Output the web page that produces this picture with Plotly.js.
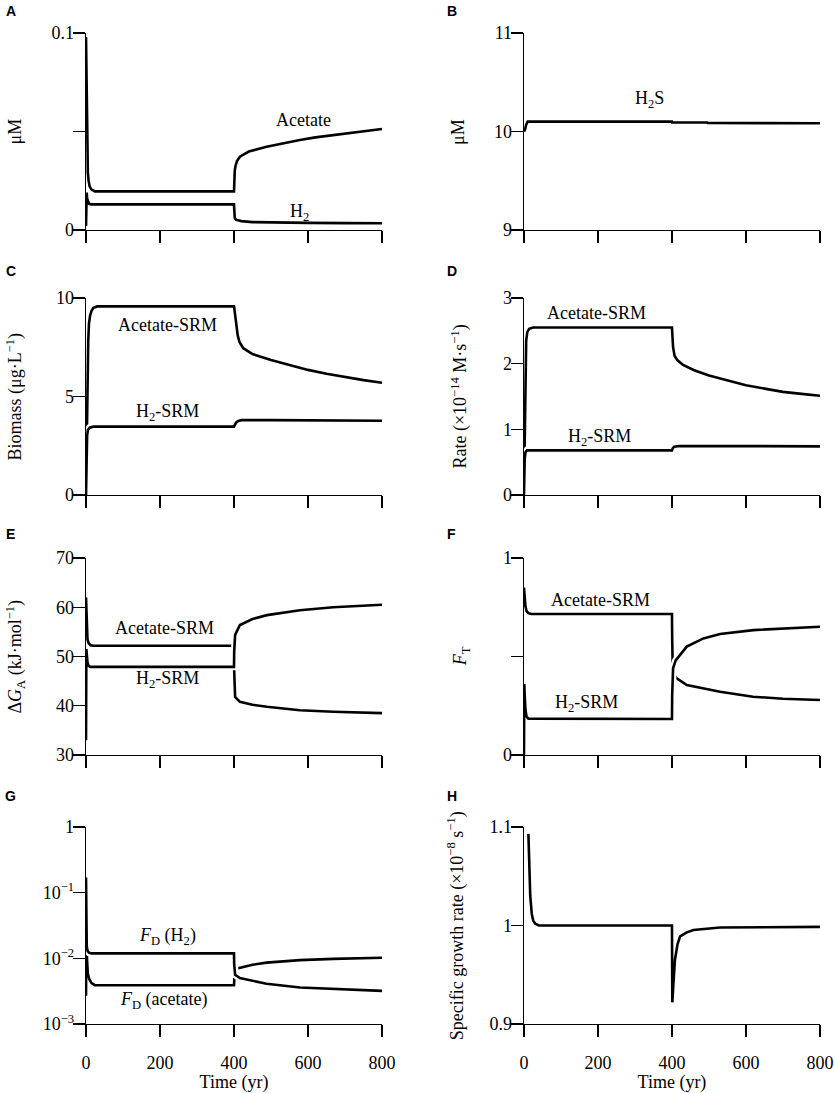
<!DOCTYPE html>
<html>
<head>
<meta charset="utf-8">
<script src="https://cdn.plot.ly/plotly-3.0.1.min.js"></script>
<style>
  html, body { margin: 0; padding: 0; background: #fff; }
  #chart { width: 835px; height: 1093px; }
</style>
</head>
<body>
<div id="chart"></div>
<script>
// time axis (yr)
const timeTicks = [0, 200, 400, 600, 800];

// A - concentrations (uM)
const acetateA_t = [0, 1, 2, 3, 4, 5, 7, 10, 15, 24, 400, 400.5, 401, 402, 404, 408, 416, 440, 488, 530, 578, 620, 668, 730, 800];
const acetateA_y = [0.098, 0.08, 0.06, 0.045, 0.035, 0.029, 0.025, 0.022, 0.0205, 0.0196, 0.0196, 0.024, 0.027, 0.030, 0.0325, 0.035, 0.0372, 0.0398, 0.0423, 0.044, 0.0457, 0.047, 0.0482, 0.0498, 0.0513];
const h2A_t = [0, 0.5, 1, 2, 3, 5, 8, 14, 400, 400.5, 401, 402, 405, 420, 450, 500, 600, 700, 800];
const h2A_y = [0.002, 0.012, 0.0175, 0.019, 0.016, 0.0142, 0.0133, 0.013, 0.013, 0.011, 0.008, 0.0062, 0.0052, 0.0045, 0.004, 0.0038, 0.0036, 0.0035, 0.0034];

// B - H2S (uM)
const h2sB_t = [0, 3, 6, 10, 400, 400.5, 495, 496, 800];
const h2sB_y = [10.0, 10.02, 10.07, 10.1, 10.1, 10.093, 10.092, 10.086, 10.083];

// C - biomass (ug/L)
const acetateC_t = [0, 2, 4, 6, 8, 11, 15, 20, 30, 400, 401, 403, 406, 410, 415, 425, 450, 500, 550, 600, 650, 700, 750, 800];
const acetateC_y = [0, 3, 6, 7.8, 8.7, 9.1, 9.35, 9.5, 9.57, 9.57, 9.45, 9.1, 8.6, 8.1, 7.75, 7.45, 7.15, 6.85, 6.6, 6.35, 6.15, 5.98, 5.83, 5.7];
const h2C_t = [0, 1, 2, 3, 5, 10, 20, 400, 402, 406, 412, 420, 500, 800];
const h2C_y = [0, 1.5, 2.5, 3.0, 3.3, 3.42, 3.47, 3.47, 3.55, 3.68, 3.76, 3.8, 3.8, 3.77];

// D - rate (x1e-14 M/s)
const acetateD_t = [0, 2, 4, 6, 9, 14, 25, 400, 401, 403, 407, 415, 430, 460, 500, 550, 600, 650, 700, 750, 800];
const acetateD_y = [0, 1.0, 2.0, 2.35, 2.48, 2.53, 2.55, 2.55, 2.45, 2.25, 2.12, 2.05, 1.98, 1.9, 1.82, 1.74, 1.67, 1.62, 1.57, 1.54, 1.51];
const h2D_t = [0, 1, 2, 4, 8, 400, 402, 406, 420, 600, 800];
const h2D_y = [0, 0.35, 0.55, 0.65, 0.68, 0.68, 0.71, 0.735, 0.745, 0.745, 0.74];

// E - dG_A (kJ/mol)
const acetateE_t = [0, 1, 2, 4, 7, 12, 20, 400, 400.5, 401, 403, 416, 450, 489, 578, 668, 800];
const acetateE_y = [62, 58, 55.5, 53.5, 52.7, 52.3, 52.2, 52.2, 47, 43, 41.8, 40.8, 40.2, 39.8, 39.1, 38.8, 38.5];
const h2E_t = [0, 0.5, 1, 2, 4, 7, 12, 400, 400.5, 401, 403, 416, 450, 489, 578, 668, 800];
const h2E_y = [33, 45, 51.5, 50.5, 48.8, 48.1, 47.9, 47.9, 51, 52.5, 54.4, 56.4, 57.6, 58.4, 59.4, 60, 60.5];

// F - F_T
const acetateF_t = [0, 2, 4, 7, 12, 20, 400, 400.5, 401, 402, 405, 413, 440, 530, 619, 700, 800];
const acetateF_y = [0.85, 0.79, 0.755, 0.73, 0.72, 0.716, 0.716, 0.6, 0.5, 0.45, 0.41, 0.389, 0.355, 0.321, 0.296, 0.286, 0.279];
const h2F_t = [0, 0.5, 1, 2, 4, 7, 12, 400, 400.5, 401, 403, 410, 421, 440, 485, 530, 620, 700, 800];
const h2F_y = [0, 0.25, 0.36, 0.3, 0.23, 0.195, 0.185, 0.183, 0.3, 0.39, 0.44, 0.48, 0.508, 0.55, 0.592, 0.614, 0.634, 0.643, 0.651];

// G - F_D (log)
const acetateG_t = [0, 0.5, 1, 2, 3, 5, 9, 15, 24, 400, 401, 404, 409, 450, 488, 578, 668, 800];
const acetateG_y = [0.0027, 0.01, 0.018, 0.014, 0.009, 0.0058, 0.0048, 0.0042, 0.0039, 0.0039, 0.005, 0.0065, 0.007, 0.008, 0.0086, 0.0094, 0.0098, 0.0102];
const h2G_t = [0, 0.5, 1, 2, 4, 8, 15, 400, 400.5, 401, 403, 416, 450, 488, 578, 668, 800];
const h2G_y = [0.17, 0.05, 0.02, 0.0155, 0.013, 0.0122, 0.0119, 0.0119, 0.008, 0.0064, 0.0056, 0.005, 0.0045, 0.0041, 0.0036, 0.0034, 0.0032];

// H - specific growth rate (x1e-8 /s)
const growthH_t = [12, 14, 17, 21, 25, 30, 40, 400, 400.5, 401, 403, 408, 415, 422, 440, 458, 530, 800];
const growthH_y = [1.093, 1.06, 1.03, 1.012, 1.005, 1.002, 1.0, 1.0, 0.96, 0.922, 0.935, 0.965, 0.981, 0.989, 0.993, 0.9955, 0.998, 0.9986];

const serif = "Liberation Serif";
const fontSize = 18;
const colX = [[0.103, 0.4575], [0.6275, 0.982]];
const rowY = [[0.7896, 0.9698], [0.5471, 0.7274], [0.3092, 0.4895], [0.0631, 0.2434]];

const panels = [
  { letter: "A", col: 0, row: 0, series: [[acetateA_t, acetateA_y], [h2A_t, h2A_y]],
    range: [0, 0.1], tickvals: [0, 0.05, 0.1], ticktext: ["0", "", "0.1"],
    ytitle: "μM", tx: 0.018,
    labels: [["Acetate", 589, 0.0558], ["H<sub>2</sub>", 578, 0.009]] },
  { letter: "B", col: 1, row: 0, series: [[h2sB_t, h2sB_y]],
    range: [9, 11], tickvals: [9, 10, 11], ticktext: ["9", "10", "11"],
    ytitle: "μM", tx: 0.549,
    labels: [["H<sub>2</sub>S", 340, 10.32]] },
  { letter: "C", col: 0, row: 1, series: [[acetateC_t, acetateC_y], [h2C_t, h2C_y]],
    range: [0, 10], tickvals: [0, 5, 10], ticktext: ["0", "5", "10"],
    ytitle: "Biomass (μg·L<sup>−1</sup>)", tx: 0.018,
    labels: [["Acetate-SRM", 219, 8.63], ["H<sub>2</sub>-SRM", 219, 4.21]] },
  { letter: "D", col: 1, row: 1, series: [[acetateD_t, acetateD_y], [h2D_t, h2D_y]],
    range: [0, 3], tickvals: [0, 1, 2, 3], ticktext: ["0", "1", "2", "3"],
    ytitle: "Rate (×10<sup>−14</sup> M·s<sup>−1</sup>)", tx: 0.551,
    labels: [["Acetate-SRM", 197, 2.77], ["H<sub>2</sub>-SRM", 205, 0.88]] },
  { letter: "E", col: 0, row: 2, series: [[acetateE_t, acetateE_y], [h2E_t, h2E_y]],
    range: [30, 70], tickvals: [30, 40, 50, 60, 70], ticktext: ["30", "40", "50", "60", "70"],
    ytitle: "Δ<i>G</i><sub>A</sub> (kJ·mol<sup>−1</sup>)", tx: 0.018,
    labels: [["Acetate-SRM", 211, 55.8], ["H<sub>2</sub>-SRM", 219, 45.4]] },
  { letter: "F", col: 1, row: 2, series: [[acetateF_t, acetateF_y], [h2F_t, h2F_y]],
    range: [0, 1], tickvals: [0, 0.5, 1], ticktext: ["0", "", "1"],
    ytitle: "<i>F</i><sub>T</sub>", tx: 0.553,
    labels: [["Acetate-SRM", 208, 0.787], ["H<sub>2</sub>-SRM", 170, 0.264]] },
  { letter: "G", col: 0, row: 3, series: [[acetateG_t, acetateG_y], [h2G_t, h2G_y]], log: true,
    range: [-3, 0], tickvals: [0.001, 0.01, 0.1, 1],
    ticktext: ["10<sup>−3</sup>", "10<sup>−2</sup>", "10<sup>−1</sup>", "1"],
    ytitle: "", tx: 0.018,
    labels: [["<i>F</i><sub>D</sub> (H<sub>2</sub>)", 219, -1.675], ["<i>F</i><sub>D</sub> (acetate)", 211, -2.635]] },
  { letter: "H", col: 1, row: 3, series: [[growthH_t, growthH_y]],
    range: [0.9, 1.1], tickvals: [0.9, 1, 1.1], ticktext: ["0.9", "1", "1.1"],
    ytitle: "Specific growth rate (×10<sup>−8</sup> s<sup>−1</sup>)", tx: 0.547,
    labels: [] }
];

const axisBase = {
  showline: true, linecolor: "black", linewidth: 1.3,
  ticks: "outside", ticklen: 12, tickwidth: 1.3, tickcolor: "black",
  showgrid: false, zeroline: false, layer: "below traces",
  tickfont: { family: serif, size: fontSize, color: "black" }
};

const traces = [];
const layout = {
  width: 835, height: 1093,
  margin: { t: 0, l: 0, r: 0, b: 0 },
  paper_bgcolor: "white", plot_bgcolor: "white",
  showlegend: false,
  font: { family: serif, size: fontSize, color: "black" },
  annotations: []
};

panels.forEach((p, i) => {
  const suf = i === 0 ? "" : String(i + 1);
  const bottom = p.row === 3;

  p.series.forEach(s => {
    // white halo under each line, like the original figure
    traces.push({ x: s[0], y: s[1], xaxis: "x" + suf, yaxis: "y" + suf, mode: "lines",
      line: { color: "white", width: 7 }, hoverinfo: "skip" });
    traces.push({ x: s[0], y: s[1], xaxis: "x" + suf, yaxis: "y" + suf, mode: "lines",
      line: { color: "black", width: 2.6 } });
  });

  const xax = Object.assign({}, axisBase, {
    domain: colX[p.col], anchor: "y" + suf,
    range: [0, 800], tickvals: timeTicks,
    showticklabels: bottom
  });
  if (bottom) {
    xax.ticklabelstandoff = 10;
    xax.title = { text: "Time (yr)", standoff: 6, font: { family: serif, size: fontSize, color: "black" } };
  }
  layout["xaxis" + suf] = xax;

  layout["yaxis" + suf] = Object.assign({}, axisBase, {
    domain: rowY[p.row], anchor: "x" + suf,
    type: p.log ? "log" : "linear",
    range: p.range, tickvals: p.tickvals, ticktext: p.ticktext,
    ticklabelstandoff: -5
  });

  layout.annotations.push({
    text: "<b>" + p.letter + "</b>", xref: "paper", yref: "paper",
    x: p.col === 0 ? 0.013 : 0.541, y: [0.990, 0.752, 0.5114, 0.2717][p.row],
    xanchor: "center", yanchor: "middle", showarrow: false,
    font: { family: "Liberation Sans", size: 14, color: "black" }
  });

  if (p.ytitle) {
    layout.annotations.push({
      text: p.ytitle, xref: "paper", yref: "paper", textangle: -90,
      x: p.tx, y: (rowY[p.row][0] + rowY[p.row][1]) / 2,
      xanchor: "center", yanchor: "middle", showarrow: false,
      font: { family: serif, size: fontSize, color: "black" }
    });
  }

  p.labels.forEach(l => {
    layout.annotations.push({
      text: l[0], xref: "x" + suf, yref: "y" + suf, x: l[1], y: l[2],
      xanchor: "center", yanchor: "middle", showarrow: false,
      font: { family: serif, size: fontSize, color: "black" }
    });
  });
});

Plotly.newPlot("chart", traces, layout, { displayModeBar: false, staticPlot: true });
</script>
</body>
</html>
